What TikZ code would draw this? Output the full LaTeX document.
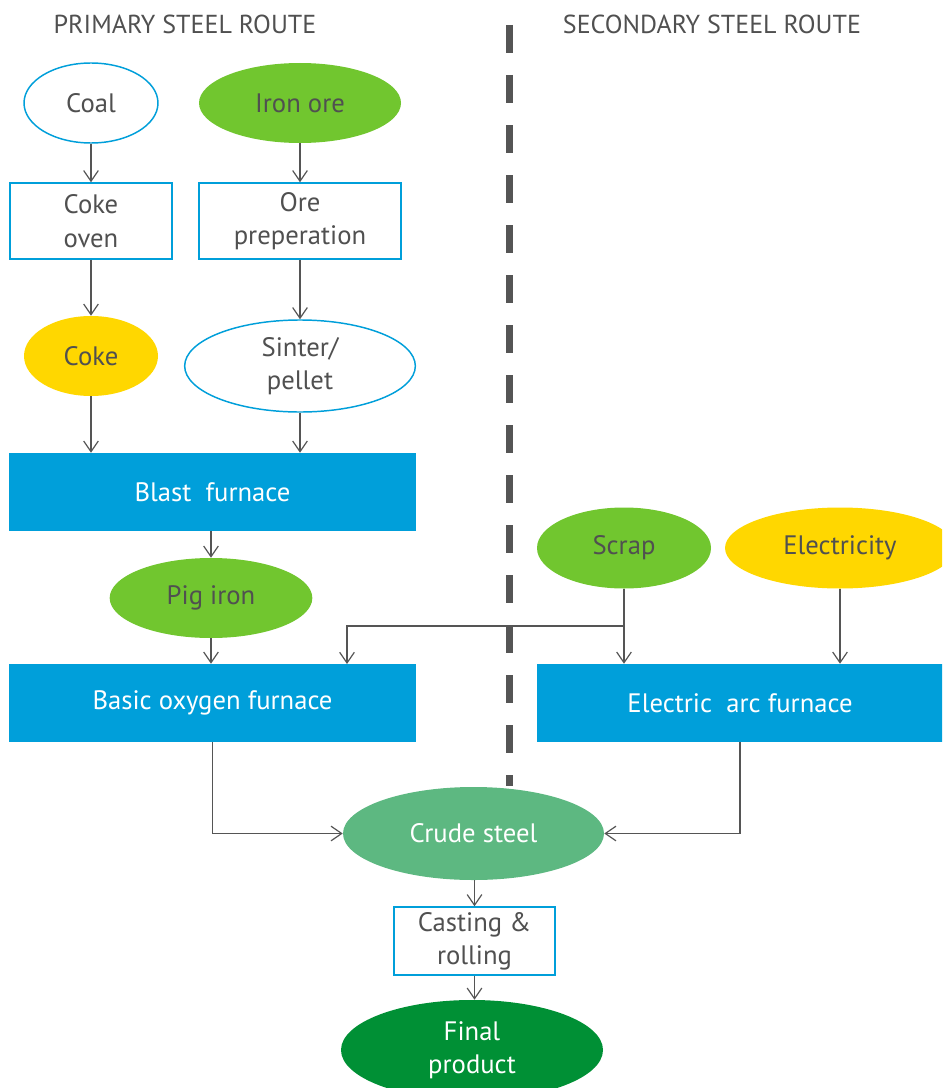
\documentclass[tikz,border=0pt]{standalone}
\usepackage{fontspec}
\setmainfont{PT Sans}
\usetikzlibrary{shapes.geometric,arrows.meta}
\definecolor{txt}{HTML}{505050}
\definecolor{cblue}{HTML}{009FDA}
\definecolor{cgreen}{HTML}{71C62F}
\definecolor{cyellow}{HTML}{FFD700}
\definecolor{csteel}{HTML}{5DB881}
\definecolor{cfinal}{HTML}{009035}
\definecolor{cline}{HTML}{555555}
\begin{document}
\begin{tikzpicture}[x=0.75pt,y=-0.75pt,
  every node/.style={font=\fontsize{20}{25}\selectfont, text=txt, align=center, inner sep=0pt},
  oval/.style={ellipse},
  outl/.style={draw=cblue, line width=1.1pt, fill=white},
  boxo/.style={rectangle, draw=cblue, line width=1.1pt, fill=white},
  furn/.style={rectangle, fill=cblue, text=white, minimum width=305pt, minimum height=58.5pt},
  title/.style={font=\fontsize{19.5}{24}\selectfont},
  arr/.style={draw=cline, line width=0.9pt, -{Straight Barb[length=8pt,width=11pt]}},
  ln/.style={draw=cline, line width=0.9pt}]
\useasboundingbox (0,0) rectangle (942,1088);
\clip (0,0) rectangle (942,1088);

% titles
\node[title] (tp) at (185,24) {PRIMARY STEEL ROUTE};
\node[title] (ts) at (712,24) {SECONDARY STEEL ROUTE};

% primary route
\node[oval, outl, minimum width=100.5pt, minimum height=60pt] (coal) at (91,103) {Coal};
\node[oval, fill=cgreen, minimum width=151.5pt, minimum height=60pt] (ore) at (300,103) {Iron ore};
\node[boxo, minimum width=121.5pt, minimum height=57pt] (oven) at (91,221) {Coke\\oven};
\node[boxo, minimum width=151.5pt, minimum height=57pt] (prep) at (300,221) {Ore\\preperation};
\node[oval, fill=cyellow, minimum width=100.5pt, minimum height=60pt] (coke) at (91,356) {Coke};
\node[oval, outl, minimum width=173pt, minimum height=69pt] (sinter) at (300,366) {Sinter/\\pellet};
\node[furn] (blast) at (212.5,492) {Blast\ \ furnace};
\node[oval, fill=cgreen, minimum width=152pt, minimum height=60pt] (pig) at (211,598) {Pig iron};
\node[furn] (bof) at (212.5,703) {Basic oxygen furnace};

% secondary route
\node[oval, fill=cgreen, minimum width=130.5pt, minimum height=60.75pt] (scrap) at (624,548) {Scrap};
\node[oval, fill=cyellow, minimum width=172.5pt, minimum height=60.75pt] (elec) at (840,548) {Electricity};
\node[furn, minimum width=304.5pt] (eaf) at (740,703) {Electric\ \ arc furnace};

% common
\node[oval, fill=csteel, text=white, minimum width=195.75pt, minimum height=69.75pt] (crude) at (473.5,833.5) {Crude steel};
\node[boxo, minimum width=120.75pt, minimum height=51pt] (cast) at (474.5,941) {Casting \&\\rolling};
\node[oval, fill=cfinal, text=white, minimum width=196.5pt, minimum height=75pt] (final) at (472,1050) {Final\\product};

% connectors
\draw[arr] (coal) -- (oven);
\draw[arr] (oven) -- (coke);
\draw[arr] (coke.south) -- (coke.south |- blast.north);
\draw[arr] (ore) -- (prep);
\draw[arr] (prep) -- (sinter);
\draw[arr] (sinter.south) -- (sinter.south |- blast.north);
\draw[arr] (blast.south -| pig.north) -- (pig.north);
\draw[arr] (pig.south) -- (pig.south |- bof.north);
\coordinate (br) at (624,626);
\coordinate (bofin) at (347,664);
\draw[arr] (scrap.south) -- (scrap.south |- eaf.north);
\draw[arr] (br) -| (bofin);
\draw[arr] (elec.south) -- (elec.south |- eaf.north);
\draw[arr] (bof.south) |- (crude.west);
\draw[arr] (eaf.south) |- (crude.east);
\draw[arr] (crude.south -| cast.north) -- (cast.north);
\draw[arr] (cast.south) -- (cast.south |- final.north);

% divider
\coordinate (dtop) at (509,25);
\coordinate (dbot) at (509,786);
\draw[cline, line width=5.25pt, dash pattern=on 21pt off 16.5pt] (dtop) -- (dbot);
\end{tikzpicture}
\end{document}
